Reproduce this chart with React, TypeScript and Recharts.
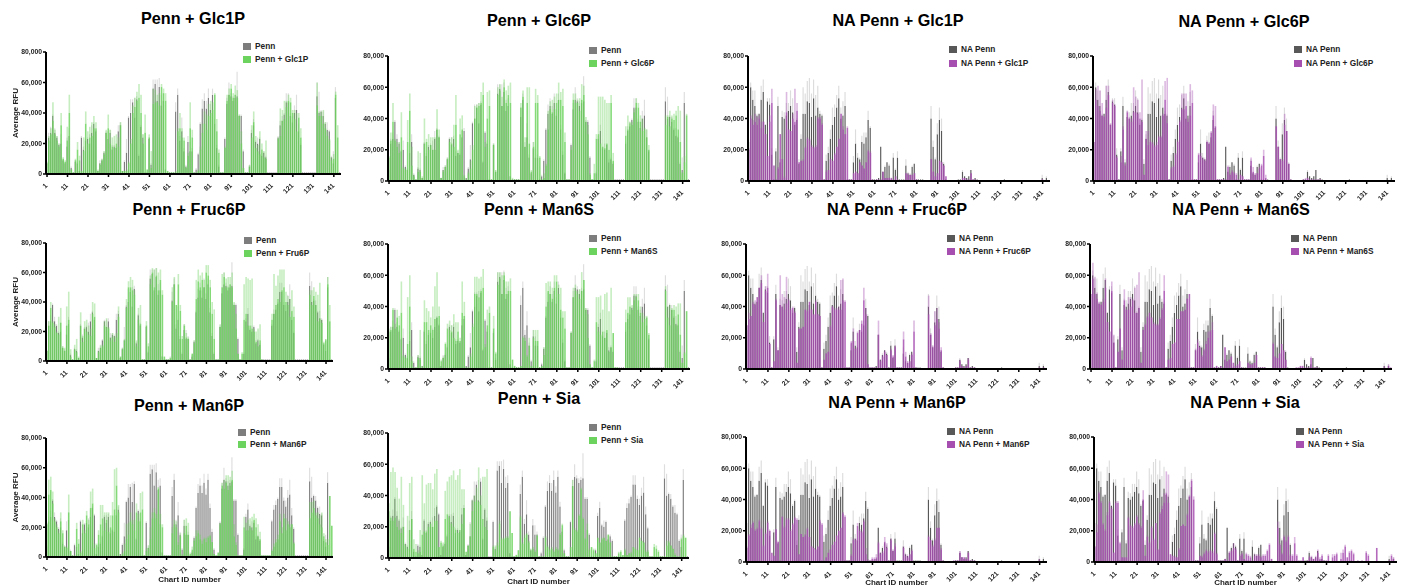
import React from "react";
import { Bar, BarChart, XAxis, YAxis } from "recharts";

// all values in thousands of RFU, 12 per row, chart IDs 1-144
const chartIds = Array.from({ length: 144 }, (_, i) => i + 1);
const yTicks = [0, 20000, 40000, 60000, 80000];

const penn = [
  7,24,27,38,27,24,19,20,9,7,18,25,
  4,1,8,7,2,24,16,22,23,20,27,33,
  28,2,7,9,14,27,23,27,16,18,17,28,
  32,2,8,14,37,40,47,37,49,12,31,24,
  1,1,23,6,56,59,48,57,45,48,3,1,
  1,1,1,41,52,22,28,15,5,21,15,15,
  1,3,13,33,43,48,43,50,42,52,33,17,
  5,1,1,23,46,52,51,48,50,51,38,38,
  15,1,1,5,27,32,21,20,23,12,14,11,
  1,1,1,1,1,24,32,35,39,47,47,38,
  34,40,42,28,19,1,1,1,1,1,1,1,
  51,40,41,38,33,29,28,11,7,50,1,1,
];
const pennErr = [
  1,3,4,1,3,1,1,6,1,1,6,5,
  1,0,1,1,0,1,2,1,1,6,5,1,
  1,0,2,1,1,1,5,2,3,1,1,4,
  2,0,1,9,1,9,2,13,2,1,1,2,
  0,0,1,1,6,3,14,6,7,5,0,0,
  0,0,0,6,4,3,9,2,1,4,6,2,
  0,1,1,1,6,5,5,6,4,4,3,2,
  1,0,0,1,4,8,2,3,2,16,1,1,
  1,0,0,1,2,4,1,4,1,2,1,1,
  0,0,0,0,0,1,3,3,1,6,6,2,
  4,5,10,5,1,0,0,0,0,0,0,0,
  9,14,1,3,1,5,1,1,8,7,0,0,
];
const naPenn = [
  25,60,52,48,42,43,52,57,36,51,49,17,
  1,19,48,12,41,40,42,45,48,44,36,39,
  11,27,43,43,51,50,41,53,42,47,43,42,
  1,13,18,27,36,41,47,53,40,42,48,1,
  1,1,12,24,15,14,25,24,28,39,34,1,
  1,1,2,22,6,9,12,10,1,15,7,15,
  1,1,1,10,5,4,9,11,1,1,1,1,
  0,0,0,40,22,14,30,39,32,11,1,0,
  0,0,0,0,1,1,6,3,2,3,7,1,
  2,1,0,0,0,0,0,0,0,0,0,0,
  0,0,1,0,0,0,0,0,0,0,0,0,
  0,0,0,0,0,0,0,0,2,0,2,0,
];
const naPennErr = [
  2,3,6,10,1,0,9,8,0,2,4,4,
  0,2,6,2,4,4,8,5,10,9,1,1,
  3,3,17,13,13,16,15,12,13,14,2,1,
  0,4,4,6,11,8,8,8,7,9,9,0,
  0,0,4,9,3,1,4,7,3,6,1,0,
  0,0,0,0,0,1,0,1,0,3,1,4,
  0,0,0,4,1,1,1,0,0,0,0,0,
  0,0,0,8,4,1,7,8,8,1,0,0,
  0,0,0,0,0,0,1,0,0,0,0,0,
  0,0,0,0,0,0,0,0,0,0,0,0,
  0,0,0,0,0,0,0,0,0,0,0,0,
  0,0,0,0,0,0,0,0,2,0,1,0,
];

const glc1p = [
  7,22,26,35,26,22,18,32,10,8,22,40,
  3,1,9,16,9,2,15,33,20,24,25,30,
  30,2,6,9,13,27,30,20,18,17,20,18,
  32,2,2,2,7,20,40,44,48,50,40,20,
  27,3,24,4,46,47,47,45,57,53,48,2,
  1,1,1,1,28,30,24,22,4,12,30,24,
  1,1,2,16,27,33,29,38,40,42,52,28,
  14,1,1,17,48,52,56,50,52,50,38,20,
  4,1,1,5,24,34,17,15,13,16,11,10,
  0,0,0,0,0,23,25,35,36,44,48,47,
  40,36,28,37,24,0,0,0,0,0,0,0,
  45,38,38,33,30,25,22,9,10,52,24,0,
];
const glc1pErr = [
  1,3,4,12,3,3,2,8,1,1,9,12,
  0,0,1,5,3,0,9,8,8,7,9,8,
  4,1,1,1,2,2,9,9,6,8,6,6,
  2,0,0,1,1,3,5,6,6,9,12,6,
  12,0,2,11,10,8,5,8,2,3,5,0,
  0,0,0,1,2,10,6,2,1,2,17,5,
  0,0,1,2,6,8,10,8,8,5,1,8,
  2,0,0,1,4,4,3,3,6,5,1,8,
  0,0,0,1,8,7,8,4,15,4,4,12,
  0,0,0,0,0,1,18,7,12,4,4,3,
  2,6,12,3,6,0,0,0,0,0,0,0,
  15,3,3,9,4,3,1,2,3,2,8,0,
];
const glc6p = [
  15,26,38,26,22,18,28,8,7,25,45,10,
  3,1,6,6,2,24,25,20,23,20,20,33,
  28,2,6,9,14,25,24,22,36,18,30,33,
  3,1,5,8,20,40,47,48,50,55,22,40,
  48,1,23,6,55,58,48,60,50,55,50,1,
  1,1,1,47,54,22,50,24,6,22,50,50,
  15,1,2,10,33,46,44,46,50,52,52,48,
  25,1,1,20,52,50,50,45,52,55,38,30,
  4,1,5,27,30,24,22,21,24,20,50,13,
  0,0,0,0,0,29,33,37,36,44,50,47,
  38,32,33,28,20,0,0,0,0,0,0,0,
  36,41,35,40,39,42,33,25,5,12,42,0,
];
const glc6pErr = [
  1,5,12,1,3,7,16,1,1,14,11,12,
  1,0,13,12,1,16,2,10,5,8,8,13,
  5,0,1,1,1,2,4,14,19,2,10,9,
  1,0,1,5,3,8,2,2,7,8,3,17,
  10,0,1,1,5,4,6,5,8,6,13,1,
  0,0,0,3,4,6,10,36,1,3,9,5,
  1,0,3,1,12,5,8,8,6,11,5,11,
  6,0,0,2,4,6,2,8,10,6,3,6,
  1,0,6,3,24,30,32,31,26,30,5,5,
  0,0,0,0,0,6,9,1,2,2,3,3,
  4,8,1,5,3,0,0,0,0,0,0,0,
  6,1,10,2,4,3,15,20,1,4,1,0,
];
const fruc6p = [
  7,24,36,26,23,19,18,26,9,7,24,28,
  3,1,8,6,2,24,13,22,20,18,17,32,
  30,2,6,9,10,24,23,22,14,16,13,16,
  30,3,8,14,36,50,50,48,45,10,28,25,
  1,1,24,10,52,60,50,58,48,55,45,3,
  1,1,2,40,52,38,52,34,15,24,16,15,
  1,5,12,42,54,50,55,50,60,58,50,32,
  15,1,1,23,50,57,50,50,52,50,38,22,
  5,1,5,28,32,24,24,22,20,13,10,14,
  1,0,0,0,0,28,32,38,42,40,48,50,
  40,38,30,34,30,0,0,0,0,0,0,0,
  45,38,44,38,27,29,26,12,14,52,27,0,
];
const fruc6pErr = [
  0,3,4,1,2,1,12,10,1,2,13,19,
  5,0,3,9,1,9,4,5,8,6,5,8,
  9,0,1,2,1,3,6,1,2,3,4,3,
  7,0,1,1,6,4,7,7,3,4,8,13,
  0,0,3,2,6,3,12,5,12,7,3,0,
  0,0,1,10,5,0,7,4,2,1,3,1,
  0,0,2,13,8,8,5,5,5,7,5,8,
  20,0,0,2,9,3,6,7,5,10,2,10,
  0,0,1,24,25,32,31,34,2,7,12,11,
  0,0,0,0,0,4,27,13,16,22,14,12,
  7,6,12,14,7,0,0,0,0,0,0,0,
  3,10,6,9,18,24,2,1,1,5,11,0,
];
const man6s = [
  24,25,38,26,33,28,36,8,7,16,40,5,
  1,1,7,6,1,30,30,25,28,25,32,33,
  34,5,7,16,26,25,24,20,18,24,18,36,
  34,1,1,8,27,48,48,46,50,52,14,28,
  36,1,26,10,54,58,48,60,48,50,50,6,
  2,1,1,2,20,18,8,15,2,20,18,18,
  1,2,9,40,50,48,45,52,56,48,38,33,
  26,1,1,23,46,50,48,45,50,57,38,20,
  3,1,5,30,24,22,24,20,25,11,14,23,
  1,1,0,0,0,30,36,40,38,44,46,44,
  36,30,32,33,22,0,0,0,0,0,0,0,
  50,33,28,38,38,28,35,22,4,10,37,0,
];
const man6sErr = [
  2,2,1,3,5,6,20,1,1,30,20,3,
  0,0,2,19,1,14,9,12,5,15,21,29,
  6,1,1,1,3,6,4,15,12,6,2,20,
  9,0,0,2,2,11,11,12,9,12,2,10,
  4,0,8,1,8,4,12,2,8,6,8,0,
  0,0,0,0,1,2,1,5,0,5,7,7,
  0,0,5,15,6,8,7,8,4,6,14,4,
  11,0,0,1,6,4,2,6,12,0,1,15,
  0,0,1,16,22,25,14,28,24,26,38,0,
  0,0,0,0,0,8,10,6,3,4,2,4,
  4,6,2,1,1,0,0,0,0,0,0,0,
  3,7,13,1,3,12,7,20,0,1,0,0,
];
const man6p = [
  22,42,45,36,24,20,16,24,16,7,6,30,
  4,1,1,19,9,3,22,16,28,22,33,36,
  6,8,15,22,26,18,25,17,20,28,32,48,
  30,1,2,4,12,15,24,22,18,30,24,30,
  32,1,4,6,12,26,30,26,46,22,20,1,
  1,1,1,16,22,20,8,14,1,16,21,15,
  2,5,11,14,16,12,9,12,10,13,14,10,
  2,1,3,22,48,46,50,45,48,52,14,8,
  1,1,1,20,18,18,20,18,25,20,14,12,
  1,1,1,1,1,4,7,10,12,24,16,26,
  18,22,20,22,9,0,0,0,0,0,0,0,
  26,30,33,28,26,22,20,14,10,8,41,21,
];
const man6pErr = [
  1,10,9,8,2,2,2,6,2,0,1,12,
  0,0,0,4,3,1,3,2,3,3,11,10,
  3,1,3,13,9,12,5,13,8,9,27,12,
  5,0,1,5,10,8,6,3,7,6,5,13,
  12,0,2,2,8,4,3,3,1,7,2,0,
  0,0,0,4,3,4,2,2,1,9,5,8,
  1,2,1,4,2,3,2,1,3,1,1,0,
  0,0,0,1,2,6,5,10,6,6,8,2,
  0,0,0,7,5,7,6,9,4,6,8,5,
  0,0,0,0,0,1,2,2,3,5,4,3,
  8,2,2,0,1,0,0,0,0,0,0,0,
  11,7,5,2,4,6,10,2,2,4,0,0,
];
const sia = [
  30,26,24,26,20,18,16,20,8,6,18,25,
  6,4,3,4,15,17,17,20,22,20,24,24,
  7,10,8,25,28,26,22,20,18,16,18,22,
  32,4,8,14,30,36,37,36,34,25,20,18,
  0,0,7,5,8,22,12,12,13,13,30,16,
  1,2,5,26,9,13,15,10,5,6,4,14,
  1,1,1,13,7,5,6,4,6,5,15,21,
  3,1,1,7,46,18,17,27,44,25,12,18,
  5,7,5,3,13,10,12,13,11,15,10,1,
  1,1,3,4,2,5,2,3,3,7,6,5,
  13,11,10,4,4,1,1,7,6,4,1,1,
  1,8,10,8,6,2,1,1,12,14,13,0,
];
const siaErr = [
  5,29,34,29,25,20,36,14,1,21,30,27,
  6,5,2,14,38,18,30,28,26,24,30,33,
  0,1,2,18,21,26,31,36,32,37,39,22,
  12,0,0,8,7,4,8,22,6,27,32,39,
  0,0,1,3,2,2,1,1,1,1,0,0,
  0,0,0,1,1,2,1,1,1,1,1,1,
  0,0,0,1,1,1,1,1,1,1,1,1,
  0,0,0,0,4,1,1,1,1,1,1,4,
  1,0,1,0,0,0,1,0,0,0,0,0,
  0,0,1,1,0,1,0,0,1,0,0,0,
  0,0,0,1,1,0,0,2,2,1,0,0,
  0,3,1,0,0,1,0,0,1,1,0,0,
];

const naGlc1p = [
  20,40,36,38,36,40,34,38,30,16,38,50,
  10,1,8,30,14,2,44,33,32,40,38,45,
  12,13,13,21,27,26,22,21,22,40,40,36,
  1,6,7,14,13,17,22,27,43,33,30,34,
  1,1,5,6,5,12,10,8,12,19,18,1,
  0,1,1,1,6,2,2,2,2,1,3,1,
  0,0,0,5,4,4,4,5,1,0,0,0,
  0,0,0,14,6,3,5,13,12,10,3,0,
  0,0,0,0,0,0,2,2,1,1,5,1,
  1,0,0,0,0,0,0,0,0,0,0,0,
  0,0,0,0,0,0,0,0,0,0,0,0,
  0,0,0,0,0,0,0,0,1,0,0,0,
];
const naGlc1pErr = [
  1,2,3,5,5,2,4,0,0,0,4,9,
  0,0,1,0,0,1,13,0,0,3,21,5,
  0,0,1,1,1,1,1,1,1,1,1,1,
  0,1,0,0,0,1,0,0,0,2,0,1,
  0,0,0,0,0,0,0,0,0,1,1,0,
  0,0,0,0,0,0,0,0,0,0,0,0,
  0,0,0,0,1,0,0,0,0,0,0,0,
  0,0,0,0,0,0,0,0,0,0,0,0,
  0,0,0,0,0,0,0,0,0,0,0,0,
  0,0,0,0,0,0,0,0,0,0,0,0,
  0,0,0,0,0,0,0,0,0,0,0,0,
  0,0,0,0,0,0,0,0,0,0,0,0,
];
const naGlc6p = [
  25,52,48,45,42,41,47,55,36,50,48,15,
  1,12,33,10,44,40,38,44,44,43,40,38,
  4,27,23,25,24,22,23,28,28,42,52,37,
  1,8,9,17,25,38,46,46,48,38,42,50,
  1,1,17,16,14,13,25,24,31,42,35,1,
  1,1,1,1,9,4,6,5,4,1,4,3,
  1,1,1,13,6,4,5,8,10,16,2,0,
  0,0,0,35,22,14,13,36,32,11,1,0,
  0,0,0,0,1,1,2,1,1,1,1,1,
  1,0,0,0,0,0,0,0,0,0,0,0,
  0,0,0,0,0,0,0,0,0,0,0,0,
  0,0,0,0,0,0,0,0,0,0,0,0,
];
const naGlc6pErr = [
  0,7,13,13,8,1,14,6,1,2,1,1,
  0,4,2,1,1,1,2,16,10,9,4,27,
  0,5,9,1,1,1,2,1,1,1,12,29,
  0,1,1,1,1,1,10,10,8,2,20,8,
  0,0,1,2,1,1,1,1,1,7,13,0,
  0,0,0,0,1,1,1,1,1,0,0,0,
  0,0,0,2,3,1,0,1,1,4,2,0,
  0,0,0,0,0,0,1,7,0,0,0,0,
  0,0,0,0,0,1,0,0,0,0,0,0,
  0,0,0,0,0,0,0,0,0,0,0,0,
  0,0,0,0,0,0,0,0,0,0,0,0,
  0,0,0,0,0,0,0,0,0,0,0,0,
];
const naFruc6p = [
  28,32,34,42,41,46,52,55,30,50,52,16,
  1,5,44,12,41,40,38,42,44,38,39,36,
  4,26,26,27,38,37,43,38,35,43,35,34,
  1,6,10,11,27,40,38,38,38,38,44,43,
  1,1,17,18,13,23,25,29,44,35,3,1,
  1,1,1,22,5,8,11,9,1,12,8,14,
  1,1,1,19,8,4,5,9,24,1,0,0,
  0,0,0,35,22,14,28,32,26,12,1,0,
  0,0,0,0,1,1,5,2,1,2,6,1,
  1,1,0,0,0,0,0,0,0,0,0,0,
  0,0,0,0,0,0,0,0,0,0,0,0,
  0,0,0,0,0,0,0,0,1,0,1,0,
];
const naFruc6pErr = [
  0,4,0,1,3,0,0,5,0,3,9,0,
  0,0,1,0,19,8,8,17,1,1,1,1,
  0,0,0,0,0,1,0,0,0,1,0,0,
  0,0,0,0,1,0,1,1,2,19,14,1,
  0,0,1,8,0,1,0,2,8,4,0,0,
  0,0,0,9,1,1,1,0,0,1,1,1,
  0,0,0,5,3,1,0,1,7,0,0,0,
  0,0,0,12,1,1,9,7,4,2,0,0,
  0,0,0,0,0,0,1,0,0,0,1,0,
  0,0,0,0,0,0,0,0,0,0,0,0,
  0,0,0,0,0,0,0,0,0,0,0,0,
  0,0,0,0,0,0,0,0,0,0,0,0,
];
const naMan6s = [
  48,58,48,45,42,41,43,52,30,24,50,17,
  1,11,26,6,44,38,38,40,44,36,36,39,
  4,25,28,33,36,33,29,28,28,32,38,50,
  1,6,7,16,17,32,32,37,37,38,45,48,
  1,1,12,17,14,8,12,16,20,24,25,1,
  2,1,2,1,14,5,6,8,4,2,3,5,
  1,0,0,4,3,3,4,9,1,1,1,1,
  0,0,0,16,8,7,10,16,12,6,0,0,
  0,0,1,1,2,2,1,1,1,7,1,1,
  1,0,0,0,0,0,0,0,0,0,0,0,
  0,0,0,0,0,0,0,0,0,0,0,0,
  0,0,0,0,0,0,0,0,1,0,2,1,
];
const naMan6sErr = [
  0,10,11,4,1,1,2,6,0,0,6,5,
  0,0,0,0,7,0,8,6,1,16,18,23,
  0,0,1,1,0,0,1,1,1,1,1,10,
  0,0,0,0,0,0,0,0,0,0,0,0,
  0,0,1,2,0,1,1,2,4,1,5,0,
  0,0,0,0,0,0,0,0,0,0,0,0,
  0,0,0,0,0,0,0,0,0,0,0,0,
  0,0,0,1,0,0,0,0,0,0,0,0,
  0,0,0,0,0,0,0,0,0,1,0,0,
  0,0,0,0,0,0,0,0,0,0,0,0,
  0,0,0,0,0,0,0,0,0,0,0,0,
  0,0,0,0,0,0,0,0,1,0,1,0,
];
const naMan6p = [
  9,17,22,25,20,21,26,21,10,18,25,20,
  6,4,21,13,1,29,22,27,27,20,24,28,
  27,5,18,16,17,21,16,10,9,8,10,26,
  24,1,3,6,8,11,13,17,20,22,31,29,
  1,1,4,14,14,23,20,19,26,5,1,1,
  2,2,3,12,5,6,13,9,1,14,7,10,
  0,0,0,9,4,3,5,7,0,0,0,0,
  0,0,0,16,14,10,14,22,22,8,1,0,
  0,0,0,1,1,1,6,3,3,2,6,1,
  1,1,0,0,0,0,0,0,0,0,0,0,
  0,0,0,0,0,0,0,0,0,0,0,0,
  0,0,0,0,0,0,0,0,1,0,0,0,
];
const naMan6pErr = [
  1,1,2,1,1,1,1,1,1,1,1,0,
  0,0,0,0,0,0,1,1,1,1,1,1,
  1,0,0,0,1,1,0,0,0,0,0,1,
  1,0,0,0,0,0,0,0,0,0,1,1,
  0,0,1,1,1,2,1,1,1,4,1,0,
  1,1,2,1,1,1,3,3,0,1,1,2,
  0,0,0,1,1,1,0,1,0,0,0,0,
  0,0,0,1,0,1,1,0,0,1,0,0,
  0,0,0,0,0,0,1,0,0,0,0,0,
  0,0,0,0,0,0,0,0,0,0,0,0,
  0,0,0,0,0,0,0,0,0,0,0,0,
  0,0,0,0,0,0,0,0,1,0,0,0,
];
const naSia = [
  10,19,44,38,24,20,30,38,34,6,38,38,
  12,3,3,3,28,23,22,24,29,24,22,40,
  4,16,12,22,14,25,8,31,34,38,44,38,
  5,4,3,3,8,23,24,23,30,42,52,40,
  1,1,4,3,5,7,6,7,6,18,5,1,
  1,1,2,1,6,7,9,8,1,4,5,2,
  5,4,3,1,4,4,4,3,4,4,7,11,
  2,0,0,22,11,5,16,13,16,4,4,12,
  4,1,1,3,0,1,3,3,2,3,6,2,
  4,1,1,4,0,3,4,5,0,2,6,10,
  3,6,7,5,0,1,0,1,0,6,4,0,
  0,0,9,0,0,0,0,0,1,4,2,0,
];
const naSiaErr = [
  0,5,1,1,1,1,2,1,1,0,1,1,
  1,0,0,0,1,1,1,1,1,1,1,6,
  0,1,1,1,1,0,0,1,2,6,14,18,
  0,0,1,0,1,0,0,0,1,1,1,2,
  0,0,0,1,1,1,1,1,1,1,1,0,
  0,0,0,0,1,1,3,1,0,1,1,0,
  1,1,1,0,1,1,1,1,1,1,1,1,
  0,0,0,4,1,1,1,1,1,1,1,4,
  1,0,0,0,0,0,1,1,0,1,2,1,
  1,0,0,1,0,2,1,1,0,4,2,1,
  0,1,1,1,0,0,0,0,0,1,1,0,
  0,0,0,0,0,0,0,0,0,1,1,0,
];

const PENN_COLORS = { mean: "#7d7d7d", err: "#dedede", treat: "#6dd35f", treatErr: "#6dd35f" };
const NA_COLORS = { mean: "#585858", err: "#dcdcdc", treat: "#a74fb1", treatErr: "#a74fb1" };
const FONT = "'Liberation Sans', Arial, sans-serif";

const panels = [
  { title: "Penn + Glc1P", cx: 193, ty: 18, left: 46, right: 341, y80: 52, y0: 174, lx: 243, ly: 46, ly2: 59, base: "Penn", treat: "Penn + Glc1P", mean: penn, err: pennErr, t: glc1p, tErr: glc1pErr, c: PENN_COLORS, yLabel: true },
  { title: "Penn + Glc6P", cx: 539, ty: 20, left: 388, right: 690, y80: 56, y0: 181, lx: 589, ly: 50, ly2: 63, base: "Penn", treat: "Penn + Glc6P", mean: penn, err: pennErr, t: glc6p, tErr: glc6pErr, c: PENN_COLORS },
  { title: "NA Penn + Glc1P", cx: 898, ty: 20, left: 748, right: 1050, y80: 56, y0: 181, lx: 949, ly: 49, ly2: 63, base: "NA Penn", treat: "NA Penn + Glc1P", mean: naPenn, err: naPennErr, t: naGlc1p, tErr: naGlc1pErr, c: NA_COLORS },
  { title: "NA Penn + Glc6P", cx: 1244, ty: 21, left: 1093, right: 1395, y80: 56, y0: 181, lx: 1294, ly: 49, ly2: 63, base: "NA Penn", treat: "NA Penn + Glc6P", mean: naPenn, err: naPennErr, t: naGlc6p, tErr: naGlc6pErr, c: NA_COLORS },
  { title: "Penn + Fruc6P", cx: 189, ty: 209, left: 46, right: 333, y80: 243, y0: 361, lx: 244, ly: 240, ly2: 253, base: "Penn", treat: "Penn + Fru6P", mean: penn, err: pennErr, t: fruc6p, tErr: fruc6pErr, c: PENN_COLORS, yLabel: true },
  { title: "Penn + Man6S", cx: 539, ty: 209, left: 388, right: 690, y80: 244, y0: 369, lx: 589, ly: 238, ly2: 251, base: "Penn", treat: "Penn + Man6S", mean: penn, err: pennErr, t: man6s, tErr: man6sErr, c: PENN_COLORS },
  { title: "NA Penn + Fruc6P", cx: 897, ty: 209, left: 746, right: 1047, y80: 244, y0: 369, lx: 947, ly: 238, ly2: 251, base: "NA Penn", treat: "NA Penn + Fruc6P", mean: naPenn, err: naPennErr, t: naFruc6p, tErr: naFruc6pErr, c: NA_COLORS },
  { title: "NA Penn + Man6S", cx: 1241, ty: 209, left: 1090, right: 1392, y80: 244, y0: 369, lx: 1291, ly: 238, ly2: 251, base: "NA Penn", treat: "NA Penn + Man6S", mean: naPenn, err: naPennErr, t: naMan6s, tErr: naMan6sErr, c: NA_COLORS },
  { title: "Penn + Man6P", cx: 189, ty: 405, left: 46, right: 333, y80: 438, y0: 557, lx: 238, ly: 432, ly2: 444, base: "Penn", treat: "Penn + Man6P", mean: penn, err: pennErr, t: man6p, tErr: man6pErr, c: PENN_COLORS, yLabel: true, xLabelDy: 7 },
  { title: "Penn + Sia", cx: 539, ty: 398, left: 388, right: 689, y80: 433, y0: 558, lx: 589, ly: 427, ly2: 440, base: "Penn", treat: "Penn + Sia", mean: penn, err: pennErr, t: sia, tErr: siaErr, c: PENN_COLORS, xLabelDy: 8 },
  { title: "NA Penn + Man6P", cx: 897, ty: 402, left: 746, right: 1047, y80: 437, y0: 562, lx: 947, ly: 431, ly2: 444, base: "NA Penn", treat: "NA Penn + Man6P", mean: naPenn, err: naPennErr, t: naMan6p, tErr: naMan6pErr, c: NA_COLORS, xLabelDy: 5 },
  { title: "NA Penn + Sia", cx: 1245, ty: 402, left: 1094, right: 1397, y80: 437, y0: 562, lx: 1296, ly: 431, ly2: 444, base: "NA Penn", treat: "NA Penn + Sia", mean: naPenn, err: naPennErr, t: naSia, tErr: naSiaErr, c: NA_COLORS, xLabelDy: 5 },
];

const Y_AXIS_W = 46;
const X_AXIS_H = 30;
const TOP_PAD = 6;
const BASE_BAR_W = 1.15;
const TREAT_BAR_W = 1.6;

function RotatedTick({ x, y, payload }: any) {
  return (
    <text
      x={x + 1}
      y={y + 7}
      textAnchor="end"
      transform={`rotate(-45 ${x + 1} ${y + 7})`}
      style={{ fontFamily: FONT, fontSize: 6.8, fontWeight: 700, fill: "#222" }}
    >
      {payload.value}
    </text>
  );
}

function Panel({ p }: { p: any }) {
  const rows = chartIds.map((id, i) => ({
    id,
    base: p.mean[i] * 1000,
    baseErr: p.err[i] * 1000,
    treated: p.t[i] * 1000,
    treatedErr: p.tErr[i] * 1000,
  }));
  const width = Y_AXIS_W + (p.right - p.left) + 2;
  const height = TOP_PAD + (p.y0 - p.y80) + X_AXIS_H;
  const labelStyle = { fontFamily: FONT, fontSize: 8, fontWeight: 700, fill: "#222" };
  return (
    <div style={{ position: "absolute", left: p.left - Y_AXIS_W, top: p.y80 - TOP_PAD, filter: "blur(0.3px)" }}>
      <BarChart width={width} height={height} data={rows} margin={{ top: TOP_PAD, right: 2, bottom: 0, left: 0 }}>
        <XAxis
          xAxisId="base"
          dataKey="id"
          height={X_AXIS_H}
          interval={9}
          tick={<RotatedTick />}
          tickSize={3}
          axisLine={{ stroke: "#000", strokeWidth: 2 }}
          tickLine={{ stroke: "#000", strokeWidth: 1.5 }}
          label={p.xLabelDy ? { value: "Chart ID number", position: "center", dy: p.xLabelDy, style: labelStyle } : undefined}
        />
        <XAxis xAxisId="treated" dataKey="id" hide />
        <YAxis
          width={Y_AXIS_W}
          domain={[0, 80000]}
          ticks={yTicks}
          tickFormatter={(v: number) => v.toLocaleString("en-US")}
          tick={{ fontFamily: FONT, fontSize: 6.8, fontWeight: 700, fill: "#222" }}
          tickSize={3}
          tickMargin={1}
          axisLine={{ stroke: "#000", strokeWidth: 2 }}
          tickLine={{ stroke: "#000", strokeWidth: 1.5 }}
          label={p.yLabel ? { value: "Average RFU", angle: -90, position: "center", dx: -8, style: labelStyle } : undefined}
        />
        <Bar xAxisId="base" stackId="base" dataKey="base" barSize={BASE_BAR_W} fill={p.c.mean} isAnimationActive={false} />
        <Bar xAxisId="base" stackId="base" dataKey="baseErr" barSize={BASE_BAR_W} fill={p.c.err} isAnimationActive={false} />
        <Bar xAxisId="treated" stackId="treated" dataKey="treated" barSize={TREAT_BAR_W} fill={p.c.treat} fillOpacity={0.85} isAnimationActive={false} />
        <Bar xAxisId="treated" stackId="treated" dataKey="treatedErr" barSize={TREAT_BAR_W} fill={p.c.treatErr} fillOpacity={0.4} isAnimationActive={false} />
      </BarChart>
    </div>
  );
}

function LegendRow({ x, y, color, label }: { x: number; y: number; color: string; label: string }) {
  return (
    <div style={{ position: "absolute", left: x, top: y - 4, height: 8, display: "flex", alignItems: "center", gap: 4, whiteSpace: "nowrap" }}>
      <span style={{ width: 8, height: 7, background: color, display: "inline-block" }} />
      <span style={{ fontSize: 8.3, fontWeight: 700, color: "#222", lineHeight: "8px" }}>{label}</span>
    </div>
  );
}

export default function App() {
  return (
    <div style={{ position: "absolute", left: 0, top: 0, width: 1404, height: 587, overflow: "hidden", background: "#fff", fontFamily: FONT }}>
      {panels.map((p) => (
        <React.Fragment key={p.title}>
          <Panel p={p} />
          <div style={{ position: "absolute", left: p.cx, top: p.ty, transform: "translate(-50%, -50%)", fontSize: 16.2, fontWeight: 700, color: "#000", whiteSpace: "nowrap" }}>
            {p.title}
          </div>
          <LegendRow x={p.lx} y={p.ly} color={p.c.mean} label={p.base} />
          <LegendRow x={p.lx} y={p.ly2} color={p.c.treat} label={p.treat} />
        </React.Fragment>
      ))}
    </div>
  );
}
